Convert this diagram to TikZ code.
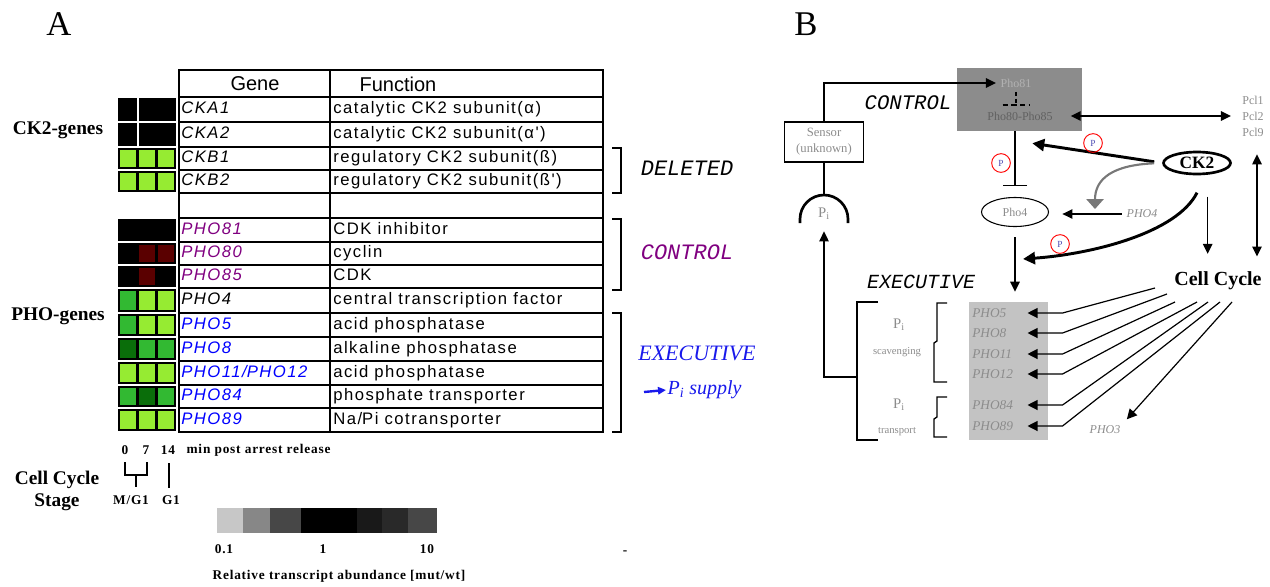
\documentclass[tikz,border=0pt]{standalone}
\usepackage{fontspec}
\setmainfont{Liberation Serif}
\setsansfont{Liberation Sans}
\setmonofont{Liberation Mono}
\newfontfamily\tabfont[LetterSpace=9]{Liberation Sans}
\newfontfamily\smallfont[LetterSpace=6]{Liberation Serif}
\usepackage{xcolor}
\usepackage{tikz}
\usetikzlibrary{positioning,arrows.meta,shapes.geometric}

\definecolor{lgreen}{RGB}{150,235,50}
\definecolor{mgreen}{RGB}{50,185,50}
\definecolor{dgreen}{RGB}{10,110,10}
\definecolor{dred}{RGB}{90,0,0}
\definecolor{ctlpurple}{RGB}{128,0,128}
\definecolor{genblue}{RGB}{0,0,255}
\definecolor{exblue}{RGB}{25,25,235}
\definecolor{txtgray}{RGB}{140,140,140}
\definecolor{boxdark}{RGB}{140,140,140}
\definecolor{boxlight}{RGB}{195,195,195}
\definecolor{arrgray}{RGB}{120,120,120}

\begin{document}
\begin{tikzpicture}[
	x=0.75pt, y=-0.75pt,
	tabline/.style={line width=1pt},
	gene/.style={anchor=west, inner sep=0pt, text height=9pt, text depth=2.5pt,
		font=\tabfont\itshape\fontsize{12.5}{14}\selectfont},
	func/.style={anchor=west, inner sep=0pt, text height=9pt, text depth=2.5pt,
		font=\tabfont\fontsize{12.5}{14}\selectfont},
	head/.style={font=\sffamily\fontsize{15}{17}\selectfont},
	grp/.style={font=\bfseries\fontsize{14.5}{17}\selectfont, align=center},
	small/.style={font=\smallfont\bfseries\fontsize{10}{12}\selectfont, inner sep=1pt},
	brk/.style={line width=1pt},
	tag/.style={font=\ttfamily\itshape\fontsize{16.5}{18}\selectfont},
	panel/.style={font=\fontsize{26}{28}\selectfont},
	lbl/.style={font=\fontsize{9}{12}\selectfont, text=txtgray, align=center},
	phog/.style={anchor=west, inner sep=0pt, text width=41.25pt,
		font=\itshape\fontsize{10}{12}\selectfont, text=txtgray},
	pcirc/.style={circle, draw=red, line width=0.7pt, minimum size=14pt, inner sep=0pt,
		font=\fontsize{7}{8}\selectfont, text=blue!40!gray},
	ln/.style={line width=1.2pt},
	arr/.style={line width=1.2pt, -{Triangle[length=7.5pt,width=7pt]}},
	dbl/.style={line width=1.2pt, {Triangle[length=7.5pt,width=7pt]}-{Triangle[length=7.5pt,width=7pt]}},
	thk/.style={line width=2.2pt, -{Triangle[length=9pt,width=9pt]}},
	cyc/.style={line width=0.9pt, -{Triangle[length=7.5pt,width=7.5pt]}}
	]
	\useasboundingbox (0,0) rectangle (1270,586);
	
	% === PANEL A ===
	\node[panel] (lblA) at (59,24) {A};
	
	% heat map: 0, 7, 14 min
	\foreach \ya/\yb/\ca/\cb/\cc in {
		97/122/black/black/black, 122/147/black/black/black,
		147/170/lgreen/lgreen/lgreen, 170/193/lgreen/lgreen/lgreen,
		218/242/black/black/black, 242/265/black/dred/dred, 265/288/black/dred/black,
		288/313/mgreen/lgreen/lgreen, 313/337/mgreen/lgreen/lgreen,
		337/361/dgreen/mgreen/mgreen, 361/385/lgreen/lgreen/lgreen,
		385/408/mgreen/dgreen/mgreen, 408/432/lgreen/lgreen/lgreen} {
		\fill[black] (118,\ya+1) rectangle (176,\yb-1);
		\fill[\ca] (120,\ya+3) rectangle (136,\yb-3);
		\fill[\cb] (139,\ya+3) rectangle (155,\yb-3);
		\fill[\cc] (158,\ya+3) rectangle (174,\yb-3);
	}
	\fill[white] (136.5,97) rectangle (139,146);
	
	% table
	\draw[tabline] (179,70) rectangle (603,432);
	\draw[tabline] (330,70) -- (330,432);
	\foreach \y in {97,122,147,170,193,218,242,265,288,313,337,361,385,408} {
		\draw[tabline] (179,\y) -- (603,\y);
	}
	\node[head] (hgene) at (255,84) {Gene};
	\node[head] (hfunc) at (398,84) {Function};
	
	\foreach \g/\c/\f/\y [count=\i] in {
		CKA1/black/catalytic CK2 subunit(α)/109.5,
		CKA2/black/catalytic CK2 subunit(α')/134.5,
		CKB1/black/regulatory CK2 subunit(ß)/158.5,
		CKB2/black/regulatory CK2 subunit(ß')/181.5,
		PHO81/ctlpurple/CDK inhibitor/230,
		PHO80/ctlpurple/cyclin/253.5,
		PHO85/ctlpurple/CDK/276.5,
		PHO4/black/central transcription factor/300.5,
		PHO5/genblue/acid phosphatase/325,
		PHO8/genblue/alkaline phosphatase/349,
		PHO11\slash PHO12/genblue/acid phosphatase/373,
		PHO84/genblue/phosphate transporter/396.5,
		PHO89/genblue/Na\slash Pi cotransporter/420} {
		\node[gene, text=\c] (gene\i) at (181,\y) {\g};
		\node[func] (func\i) at (333,\y) {\f};
	}
	
	\node[grp] (ck2genes) at (58,130) {CK2-genes};
	\node[grp] (phogenes) at (58,316) {PHO-genes};
	
	% brackets right of table
	\draw[brk] (612,148) -- (621,148) -- (621,193) -- (612,193);
	\draw[brk] (612,219) -- (621,219) -- (621,290) -- (612,290);
	\draw[brk] (612,313) -- (621,313) -- (621,432) -- (612,432);
	\node[tag] (deleted) at (687,168) {DELETED};
	\node[tag, text=ctlpurple] (control) at (687,252) {CONTROL};
	\node[font=\itshape\fontsize{16.5}{18}\selectfont, text=exblue] (execA) at (697,353) {EXECUTIVE};
	\node[anchor=west, inner sep=1pt, font=\itshape\fontsize{15}{17}\selectfont, text=exblue] (pisup) at (666,390) {P\textsubscript{i} supply};
	\coordinate (pisrc) at (644,392);
	\draw[exblue, line width=1.8pt, -{Triangle[length=6pt,width=5.5pt]}] (pisrc) -- (pisup.west);
	
	% time axis and cell cycle stage
	\node[small] (t0) at (125,450) {0};
	\node[small] (t7) at (146,450) {7};
	\node[small] (t14) at (168,450) {14};
	\node[small, anchor=west] (mpr) at (185,450) {min post arrest release};
	\draw[line width=0.8pt] (125,462) -- (125,475) -- (147,475) -- (147,462);
	\draw[line width=0.8pt] (136,475) -- (136,487);
	\draw[line width=0.8pt] (169,463) -- (169,488);
	\node[small] (mg1) at (131,500) {M/G1};
	\node[small] (g1) at (171,500) {G1};
	\node[grp] (stage) at (57,491) {Cell Cycle\\Stage};
	
	% grey scale legend
	\foreach \xa/\xb/\k in {217/243/22, 243/270/47, 270/301/72, 301/357/100, 357/382/90, 382/408/84, 408/437/72} {
		\fill[black!\k] (\xa,508) rectangle (\xb,533);
	}
	\node[small] (l01) at (224,549) {0.1};
	\node[small] (l1) at (323,549) {1};
	\node[small] (l10) at (427,549) {10};
	\node[small] (rta) at (339,576) {Relative transcript abundance [mut/wt]};
	\node[small] (dash) at (625,553) {-};
	
	% === PANEL B ===
	\node[panel] (lblB) at (806,24) {B};
	
	% control module
	\node[fill=boxdark, minimum width=93.75pt, minimum height=47.25pt, inner sep=0pt] (ctrl) at (1019.5,99.5) {};
	\node[lbl, text=black!30] (pho81) at (1016,83) {Pho81};
	\node[lbl, text=black!62] (pho8085) at (1020,116) {Pho80-Pho85};
	\draw[line width=1pt, dash pattern=on 3pt off 2pt] (pho81.south) -- ++(0,13) coordinate (inhb);
	\draw[line width=1pt, dash pattern=on 4pt off 2.5pt] ([xshift=-10pt]inhb) -- ([xshift=10pt]inhb);
	\node[tag, font=\ttfamily\itshape\fontsize{15.5}{17}\selectfont] (ctrlB) at (908,103) {CONTROL};
	\node[lbl, text=black!45, align=left] (pcl) at (1253,116) {Pcl1\\Pcl2\\Pcl9};
	\draw[dbl, shorten <=10pt, shorten >=5pt] (pho8085.east) -- (pho8085.east -| pcl.west);
	
	% sensor and Pi
	\node[draw, line width=1pt, minimum width=59.25pt, minimum height=30pt, inner sep=0pt, lbl,
		font=\fontsize{9.5}{12}\selectfont] (sensor) at (824,142) {Sensor\\(unknown)};
	\draw[arr] (sensor.north) |- (pho81.west);
	\node[lbl, font=\fontsize{11}{12}\selectfont] (pi) at (824,214) {P\textsubscript{i}};
	\draw[line width=2pt] ([shift={(24,9)}]pi.center) -- ++(0,-4) arc[start angle=0, end angle=-180, radius=24] -- ++(0,4);
	\draw[ln] (sensor.south) -- ([yshift=14.25pt]pi.center);
	
	% Pho4 and CK2
	\node[ellipse, draw, line width=0.8pt, minimum width=50.25pt, minimum height=21.75pt, inner sep=0pt, lbl] (pho4) at (1015,212) {Pho4};
	\draw[ln, -{Bar[width=18pt]}, shorten >=8pt] (ctrl.south -| pho4.north) -- (pho4.north);
	\node[pcirc] (pc1) at (1001,163) {P};
	\node[ellipse, draw, line width=2pt, minimum width=50.25pt, minimum height=16.5pt, inner sep=0pt,
		font=\bfseries\fontsize{13}{14}\selectfont] (ck2) at (1197,163) {CK2};
	\coordinate (ctrltip) at ([shift={(-50,12)}]ctrl.south east);
	\draw[thk, shorten <=6pt] (ck2.west) -- (ctrltip);
	\node[pcirc] (pc2) at (1093,143) {P};
	
	\node[lbl, font=\itshape\fontsize{9}{12}\selectfont] (pho4lbl) at (1142,214) {PHO4};
	\draw[arr, shorten >=10pt] (pho4lbl.west) -- (pho4lbl.west -| pho4.east);
	\coordinate (ph4hit) at (1095,209);
	\draw[arrgray, line width=1.6pt, -{Triangle[length=7.5pt,width=13pt]}, shorten <=6pt] (ck2.west) .. controls +(-50,2) and +(0,-30) .. (ph4hit);
	
	\coordinate (ck2s) at ([yshift=-13pt]ck2.south);
	\coordinate (exetip) at (1023,259);
	\draw[thk] (ck2s) .. controls +(-20,40) and +(70,-5) .. (exetip);
	\node[pcirc] (pc3) at (1060,244) {P};
	
	\node[font=\bfseries\fontsize{15}{17}\selectfont] (cc) at (1218,281) {Cell Cycle};
	\draw[arr, shorten <=16pt, shorten >=10pt] ([xshift=8pt]ck2.south) -- ([xshift=8pt]ck2.south |- cc.north);
	\draw[dbl, shorten <=10pt, shorten >=8pt] ([xshift=3pt]pcl.south) -- ([xshift=3pt]pcl.south |- cc.north);
	
	% executive module
	\node[tag, font=\ttfamily\itshape\fontsize{15}{17}\selectfont] (execB) at (921,282) {EXECUTIVE};
	\node[fill=boxlight, minimum width=59.25pt, minimum height=103.5pt, inner sep=0pt] (phobox) at (1008.5,371) {};
	\draw[arr, shorten <=7.5pt, shorten >=7.5pt] (pho4.south) -- (pho4.south |- phobox.north);
	\foreach \nm/\y in {PHO5/313, PHO8/333, PHO11/354, PHO12/374, PHO84/405, PHO89/426} {
		\node[phog] (\nm) at (972,\y) {\nm};
	}
	
	% brackets and Pi groups
	\draw[brk] (878,302) -- (857,302) -- (857,440) -- (878,440);
	\draw[brk] (947,303) -- (937,303) -- (937,341) -- (934,343) -- (934,382) -- (947,382);
	\draw[brk] (947,397) -- (937,397) -- (937,417) -- (934,419) -- (934,437) -- (947,437);
	\node[lbl, font=\fontsize{11}{12}\selectfont] (pia) at (899,325) {P\textsubscript{i}};
	\node[lbl, font=\fontsize{8}{10}\selectfont] (scav) at (897,352) {scavenging};
	\node[lbl, font=\fontsize{11}{12}\selectfont] (pib) at (899,405) {P\textsubscript{i}};
	\node[lbl, font=\fontsize{8}{10}\selectfont] (trans) at (897,432) {transport};
	\coordinate (fbk) at (857,377);
	\draw[arr] (fbk) -| ([yshift=-13pt]pi.center);
	
	% cell cycle targets
	\coordinate (cs1) at (1155,288);
	\coordinate (cs2) at (1167,294);
	\coordinate (cs3) at (1175,302);
	\coordinate (cs4) at (1197,302);
	\coordinate (cs5) at (1208,302);
	\coordinate (cs6) at (1220,302);
	\coordinate (cs7) at (1232,302);
	\foreach \src/\dst in {cs1/PHO5, cs2/PHO8, cs3/PHO11, cs4/PHO12, cs5/PHO84, cs6/PHO89} {
		\draw[cyc] (\src) -- ([xshift=26.25pt]\dst.east) -- (\dst.east);
	}
	\node[lbl, font=\itshape\fontsize{9}{12}\selectfont] (PHO3) at (1105,430) {PHO3};
	\draw[cyc, shorten >=2pt] (cs7) -- (PHO3.north east);
\end{tikzpicture}
\end{document}
